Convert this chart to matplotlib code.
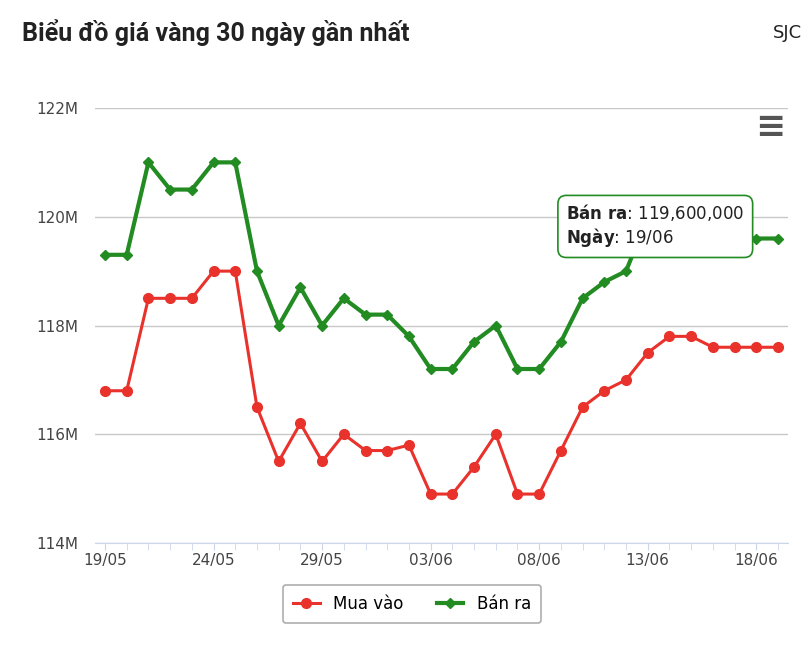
import matplotlib
matplotlib.use("Agg")
import matplotlib.pyplot as plt

dates = ["19/05","20/05","21/05","22/05","23/05","24/05","25/05","26/05","27/05","28/05","29/05","30/05","31/05",
         "01/06","02/06","03/06","04/06","05/06","06/06","07/06","08/06","09/06","10/06","11/06","12/06","13/06",
         "14/06","15/06","16/06","17/06","18/06","19/06"]
mua_vao = [116.8,116.8,118.5,118.5,118.5,119.0,119.0,116.5,115.5,116.2,115.5,116.0,115.7,115.7,115.8,114.9,114.9,
           115.4,116.0,114.9,114.9,115.7,116.5,116.8,117.0,117.5,117.8,117.8,117.6,117.6,117.6,117.6]
ban_ra = [119.3,119.3,121.0,120.5,120.5,121.0,121.0,119.0,118.0,118.7,118.0,118.5,118.2,118.2,117.8,117.2,117.2,
          117.7,118.0,117.2,117.2,117.7,118.5,118.8,119.0,120.0,120.3,120.3,119.6,119.6,119.6,119.6]
yticks = [114,116,118,120,122]

fig = plt.figure(figsize=(8.08,6.48), dpi=100)
ax = fig.add_axes([95/808, 105/648, 693/808, 435/648])
x = list(range(len(dates)))
red = "#e8322b"; green = "#228b22"
ax.plot(x, mua_vao, color=red, lw=2.2, marker="o", ms=7, label="Mua vào", zorder=3)
ax.plot(x, ban_ra, color=green, lw=3, marker="D", ms=5.5, label="Bán ra", zorder=3)
ax.set_ylim(114,122)
ax.set_xlim(-0.46, 31.46)
ax.set_yticks(yticks)
ax.set_yticklabels([f"{v}M" for v in yticks], fontsize=11, color="#444")
ax.set_xticks(x[::5])
ax.set_xticklabels(dates[::5], fontsize=11, color="#444")
ax.set_xticks(x, minor=True)
ax.grid(axis="y", color="#c8c8c8", lw=1)
for s in ["top","right","left"]:
    ax.spines[s].set_visible(False)
ax.spines["bottom"].set_color("#ccd6eb")
ax.tick_params(axis="y", length=0, pad=12)
ax.tick_params(axis="x", which="both", length=5, color="#ccd6eb", pad=2)

fig.text(22/808, 1-33/648, "Biểu đồ giá vàng 30 ngày gần nhất", fontsize=18, fontweight="bold",
         family="Roboto", va="center", color="#222")
fig.text(1-6/808, 1-33/648, "SJC", fontsize=13, ha="right", va="center", color="#222")
fig.text(770/808, 1-127/648, "≡", fontsize=26, ha="center", va="center", color="#555", fontweight="bold")

ax.annotate("$\\bf{Bán\\ ra}$: 119,600,000\n$\\bf{Ngày}$: 19/06", xy=(0.68, 0.73), xycoords="axes fraction",
            fontsize=12, va="center", ha="left", color="#222",
            bbox=dict(boxstyle="round,pad=0.5", fc="white", ec=green, lw=1.2), zorder=5)

leg = fig.legend(loc="center", bbox_to_anchor=(412/808, 1-604/648), ncol=2, fontsize=12, frameon=True,
                 fancybox=True, edgecolor="#999", handlelength=1.6, borderpad=0.6)
leg.get_frame().set_linewidth(1.2)
fig.savefig("out.png", dpi=100)
